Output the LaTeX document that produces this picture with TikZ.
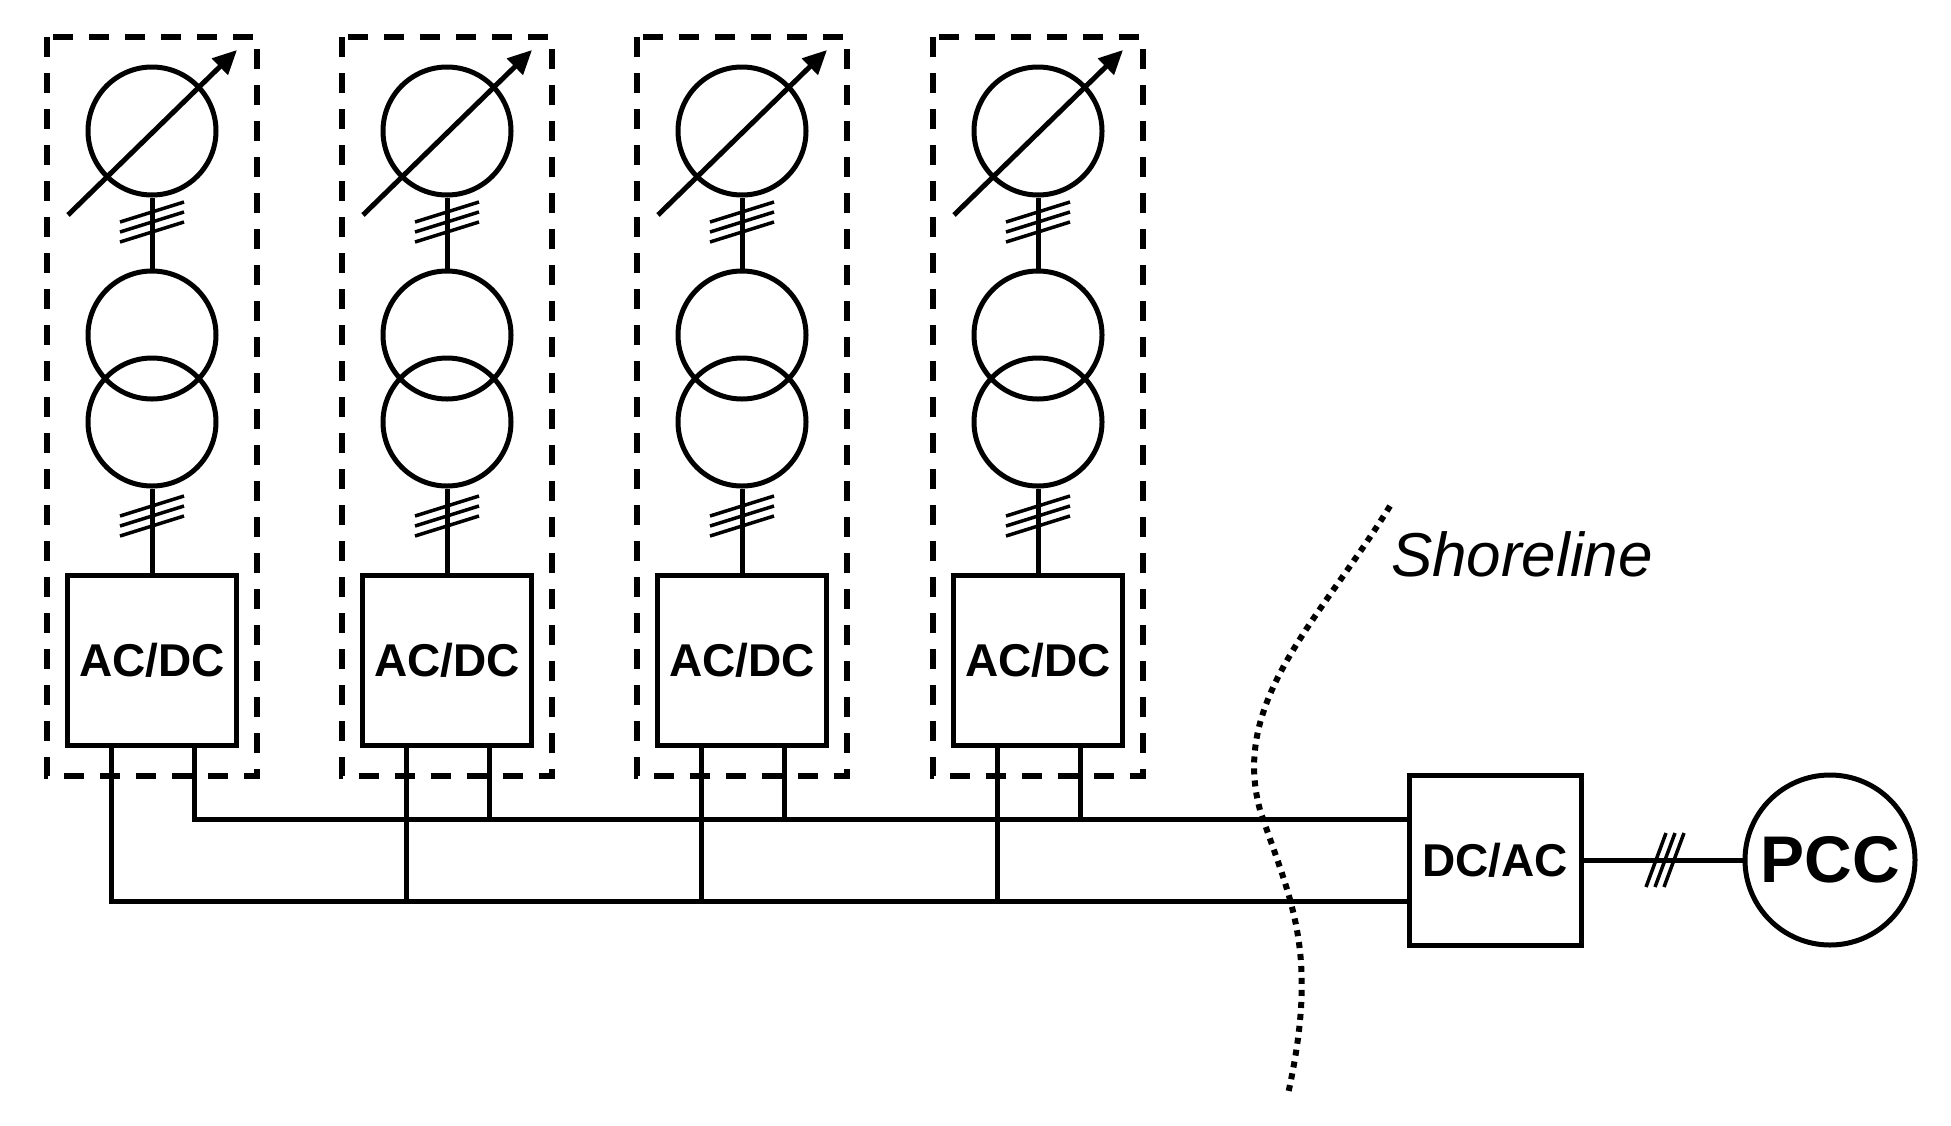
\documentclass[tikz,border=0pt]{standalone}
\usepackage{fontspec}
\setmainfont{Liberation Sans}
\usetikzlibrary{arrows.meta}
\begin{document}
\begin{tikzpicture}[x=1pt,y=-1pt,line width=5pt,
  conv/.style={draw,minimum width=169pt,minimum height=170pt,inner sep=0pt,font=\fontsize{46}{46}\selectfont\bfseries},
  circ/.style={draw,circle,minimum size=128pt,inner sep=0pt},
  dbox/.style={draw,dash pattern=on 20pt off 16pt,line width=5.5pt},
  hash/.style={line width=3.5pt}]
\useasboundingbox (0,0) rectangle (1951,1125);
\foreach \i/\cx in {1/152,2/447,3/742,4/1038}{
  \draw[dbox] (\cx-105,37) rectangle (\cx+105,776);
  \node[circ] (s\i) at (\cx,131) {};
  \draw[-{Triangle[length=24pt,width=22pt]}] (\cx-84,215) -- (\cx+85,50);
  \node[circ] (t\i) at (\cx,335) {};
  \node[circ] (u\i) at (\cx,422) {};
  \node[conv] (c\i) at (\cx,660) {AC/DC};
  \draw (s\i.south) -- (t\i.north);
  \draw (u\i.south) -- (c\i.north);
  \foreach \y in {212,222,232,506,516,526}{
    \draw[hash] (\cx-32,\y+10) -- (\cx+32,\y-10);}
  \coordinate (a\i) at (\cx-41,745);
  \coordinate (b\i) at (\cx+42,745);
}
\node[conv,minimum width=172pt] (d) at (1495,860) {DC/AC};
\node[draw,circle,minimum size=170pt,inner sep=0pt,font=\fontsize{66}{66}\selectfont\bfseries] (p) at (1830,860) {PCC};
\draw (d.east) -- (p.west);
\foreach \dx in {-9,0,9}{\draw[hash] (1655+\dx,887) -- (1675+\dx,833);}
\draw (a1) |- (d.west |- 0,901);
\draw (b1) |- (d.west |- 0,819);
\foreach \i in {2,3,4}{
  \draw (a\i) -- (a\i |- 0,901);
  \draw (b\i) -- (b\i |- 0,819);}
\draw[line width=6pt,dash pattern=on 6pt off 6pt]
  (1390,506) .. controls (1320,620) and (1230,700) .. (1260,810)
  .. controls (1290,900) and (1320,950) .. (1288,1094);
\node[font=\fontsize{62}{62}\selectfont\itshape] (sh) at (1522,554) {Shoreline};
\end{tikzpicture}
\end{document}
